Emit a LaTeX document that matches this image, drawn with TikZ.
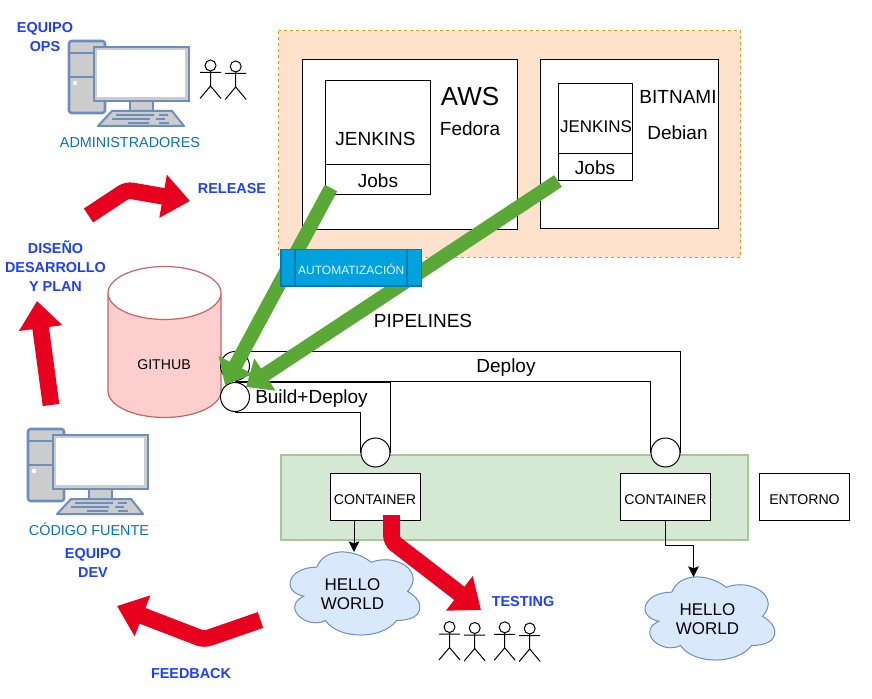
\documentclass[tikz,border=0pt]{standalone}
\usepackage{fontspec}
\setmainfont{Liberation Sans}
\usetikzlibrary{arrows.meta,calc}
\definecolor{rojo}{HTML}{E8001F}
\definecolor{verde}{HTML}{5AA836}
\definecolor{azulpc}{HTML}{6C8EBF}
\definecolor{azultx}{HTML}{1F3FFF}
\definecolor{azullab}{HTML}{0B6FC4}
\definecolor{auto}{HTML}{00A2DE}
\definecolor{autol}{HTML}{0079B5}
\definecolor{nubefill}{HTML}{DAE8FC}
\tikzset{
  bigtxt/.style={inner sep=0pt,align=center,font=\fontsize{14.25}{14.25}\selectfont},
  cloudtxt/.style={inner sep=0pt,align=center,font=\fontsize{12.75}{14.25}\selectfont},
  boldlab/.style={inner sep=0pt,align=center,text=azultx,font=\fontsize{10.8}{14.25}\selectfont\bfseries},
  bluelab/.style={inner sep=0pt,align=center,text=azullab,font=\fontsize{10.8}{14.25}\selectfont},
  boxw/.style={draw=black,fill=white,line width=.75pt},
  contbox/.style={boxw,minimum width=67.5pt,minimum height=35.5pt,inner sep=0pt},
  boxtxt/.style={inner sep=0pt,font=\fontsize{10.6}{12}\selectfont},
  portc/.style={circle,draw=black,fill=white,line width=.75pt,minimum size=21.75pt,inner sep=0pt},
  thinl/.style={draw=black,line width=.75pt},
  smalltip/.style={-{Stealth[length=8pt,width=8pt,inset=1.5pt]}},
  greenarrow/.style={draw=verde,line width=10.5pt,-{Triangle[length=17pt,width=28pt]}},
  redarrow/.style={draw=rojo,line width=12.5pt,rounded corners=4pt,-{Triangle[length=20.5pt,width=31.5pt]}},
  pc/.pic={
    \draw[azulpc,fill=black!20,line width=1.9pt,rounded corners=2pt] (0,0) rectangle (36,72);
    \draw[azulpc,line width=1.9pt] (0,12) -- (36,12) (0,36) -- (36,36);
    \fill[white] (6,42) circle[radius=2.2];
    \draw[azulpc,fill=black!20,line width=1.5pt] (61,60) rectangle (84,70);
    \draw[azulpc,fill=black!20,line width=1.5pt,line join=round] (29,85) -- (43,70) -- (103,70) -- (115,85) -- cycle;
    \draw[azulpc,line width=1.2pt] (47,74) -- (85,74) (90,74) -- (99,74) (43,78) -- (81,78) (87,78) -- (96,78) (59,82) -- (80,82) (90,82) -- (100,82);
    \draw[azulpc,fill=black!20,line width=1.9pt] (25,6) rectangle (120,60);
    \fill[white] (28,9) rectangle (116,56);
  },
  person/.pic={
    \draw[black,line width=.75pt] (0,0) circle[radius=5.5];
    \draw[black,line width=.75pt] (-10.5,7) -- (10.5,7) (0,5.5) -- (0,20.5) (-10.5,33) -- (0,20.5) -- (10.5,33);
  },
  nube/.pic={
    \draw[azulpc,fill=nubefill,line width=.75pt]
      (36.25,24.25) .. controls (7.25,24.25) and (0,48.5) .. (23.2,53.35)
      .. controls (0,64) and (26.1,87.3) .. (44.95,77.6)
      .. controls (58,97) and (101.5,97) .. (116,77.6)
      .. controls (145,77.6) and (145,58.2) .. (126.9,48.5)
      .. controls (145,29.1) and (116,9.7) .. (90.6,19.4)
      .. controls (72.5,4.85) and (43.5,4.85) .. (36.25,24.25) -- cycle;
  }
}
\begin{document}
\begin{tikzpicture}[x=.75pt,y=-.75pt]
\useasboundingbox (0,0) rectangle (872,699);
\fill[white] (0,0) rectangle (872,699);

% AWS panel
\draw[draw={rgb,255:red,232;green,156;blue,40},fill={rgb,255:red,255;green,226;blue,204},dashed,dash pattern=on 2.25pt off 2.25pt,line width=.75pt] (278.5,31) rectangle (740.5,257);
\node[boxw,minimum width=160.9pt,minimum height=126.75pt,inner sep=0pt] (aws) at (410.25,144.5) {};
\node[boxw,minimum width=134pt,minimum height=126pt,inner sep=0pt] (bit) at (629.4,144) {};
\node[boxw,minimum width=79.1pt,minimum height=85.1pt,inner sep=0pt] (jen) at (377.75,137.7) {};
\draw[thinl] (jen.west |- 0,164.5) -- (jen.east |- 0,164.5);
\node[boxw,minimum width=55.9pt,minimum height=72pt,inner sep=0pt] (jenb) at (595.5,132) {};
\draw[thinl] (jenb.west |- 0,153.5) -- (jenb.east |- 0,153.5);
\node[bigtxt] (t1) at (375.5,139) {JENKINS};
\node[bigtxt] (t2) at (378,181) {Jobs};
\node[inner sep=0pt,font=\fontsize{12.75}{14}\selectfont] (t3) at (596,126.5) {JENKINS};
\node[bigtxt] (t4) at (595,168) {Jobs};
\node[inner sep=0pt,font=\fontsize{19.5}{20}\selectfont] (t5) at (470,97) {AWS};
\node[bigtxt] (t6) at (470,129) {Fedora};
\node[bigtxt] (t7) at (678,96.5) {BITNAMI};
\node[bigtxt] (t8) at (677.5,133) {Debian};

% Environment panel
\draw[draw={rgb,255:red,165;green,200;blue,150},fill={rgb,255:red,213;green,232;blue,212},line width=1pt] (281,455) rectangle (748,540);

% Database
\draw[draw={rgb,255:red,200;green,100;blue,100},fill={rgb,255:red,252;green,206;blue,206},line width=.9pt]
  (108,293) -- (108,391) arc[start angle=180,end angle=0,x radius=56.5,y radius=26.5] -- (221,293)
  arc[start angle=0,end angle=180,x radius=56.5,y radius=26.5] -- cycle;
\draw[draw={rgb,255:red,200;green,100;blue,100},line width=.9pt]
  (108,293) arc[start angle=180,end angle=0,x radius=56.5,y radius=-26.5];
\node[boxtxt] (github) at (164,365) {GITHUB};

% Ports and pipes
\node[portc] (cA) at (235,366) {};
\node[portc] (cB) at (235,397) {};
\node[portc] (cC) at (375.5,452.5) {};
\node[portc] (cD) at (665.5,452.5) {};
\draw[thinl] (cA.north) -- (cA.north -| cD.east) -- (cD.east);
\draw[thinl] (cA.south) -- (cA.south -| cD.west) -- (cD.west);
\draw[thinl] (cB.north) -- (cB.north -| cC.east) -- (cC.east);
\draw[thinl] (cB.south) -- (cB.south -| cC.west) -- (cC.west);
\node[bigtxt] (deploy) at (506,368) {Deploy};
\node[bigtxt] (build) at (311.5,399) {Build+Deploy};
\node[bigtxt] (pipes) at (423,321) {PIPELINES};

% Green arrows
\coordinate (g1s) at (331,188);
\coordinate (g1e) at (225,385);
\coordinate (g2s) at (558,181);
\coordinate (g2e) at (246,387);
\draw[greenarrow] (g1s) -- (g1e);
\draw[greenarrow] (g2s) -- (g2e);

% Automation bar
\node[draw=autol,fill=auto,line width=.9pt,minimum width=105.4pt,minimum height=27.4pt,inner sep=0pt] (autom) at (351.25,267.75) {};
\draw[draw=autol,line width=.9pt] (295,249.5) -- (295,286) (407,249.5) -- (407,286);
\node[inner sep=0pt,text={rgb,255:red,225;green,245;blue,255},font=\fontsize{9}{10}\selectfont] (autot) at (351.25,269.5) {AUTOMATIZACIÓN};

% Containers
\node[contbox] (c1) at (375,497.3) {};
\node[contbox] (c2) at (665.5,497.3) {};
\node[contbox] (ent) at (804.5,497.3) {};
\node[boxtxt] (c1t) at (375,500) {CONTAINER};
\node[boxtxt] (c2t) at (665.5,500) {CONTAINER};
\node[boxtxt] (entt) at (804.5,500) {ENTORNO};

% Clouds
\pic at (280.6,542.9) {nube};
\pic at (635.6,567.9) {nube};
\node[cloudtxt] (h1) at (352.5,594.5) {HELLO\\WORLD};
\node[cloudtxt] (h2) at (707.5,619) {HELLO\\WORLD};
\coordinate (h1t) at (354,552);
\coordinate (h2t) at (693.5,577);
\coordinate (h2m) at (665.5,545.5);
\draw[thinl,smalltip] (c1.south -| h1t) -- (h1t);
\draw[thinl,smalltip] (c2.south) -- (h2m) -| (h2t);

% Red arrows
\coordinate (r1a) at (88.5,215.5); \coordinate (r1b) at (127,190); \coordinate (r1c) at (190,201);
\coordinate (r2a) at (51,405); \coordinate (r2c) at (37,301);
\coordinate (r3a) at (260.5,620); \coordinate (r3b) at (204,639.5); \coordinate (r3c) at (117,606);
\coordinate (r4a) at (391.5,515); \coordinate (r4b) at (391.5,541); \coordinate (r4c) at (481,610);
\draw[redarrow] (r1a) -- (r1b) -- (r1c);
\draw[redarrow] (r2a) -- (r2c);
\draw[redarrow] (r3a) -- (r3b) -- (r3c);
\draw[redarrow] (r4a) -- (r4b) -- (r4c);

% Computers
\pic at (69,41) {pc};
\pic at (28,429) {pc};

% People
\pic at (210.5,65.5) {person};
\pic at (235.7,66.5) {person};
\pic at (449.5,627) {person};
\pic at (474.7,628) {person};
\pic at (504.7,627.3) {person};
\pic at (529.7,628.5) {person};

% Labels
\node[boldlab] (l1) at (45,37) {EQUIPO\\OPS};
\node[bluelab] (l2) at (130,143) {ADMINISTRADORES};
\node[boldlab] (l3) at (232,189) {RELEASE};
\node[boldlab] (l4) at (55.5,266) {DISEÑO\\DESARROLLO\\Y PLAN};
\node[bluelab] (l5) at (89,529.5) {CÓDIGO FUENTE};
\node[boldlab] (l6) at (93,563) {EQUIPO\\DEV};
\node[boldlab] (l7) at (191,674) {FEEDBACK};
\node[boldlab] (l8) at (523,602) {TESTING};
\end{tikzpicture}
\end{document}
